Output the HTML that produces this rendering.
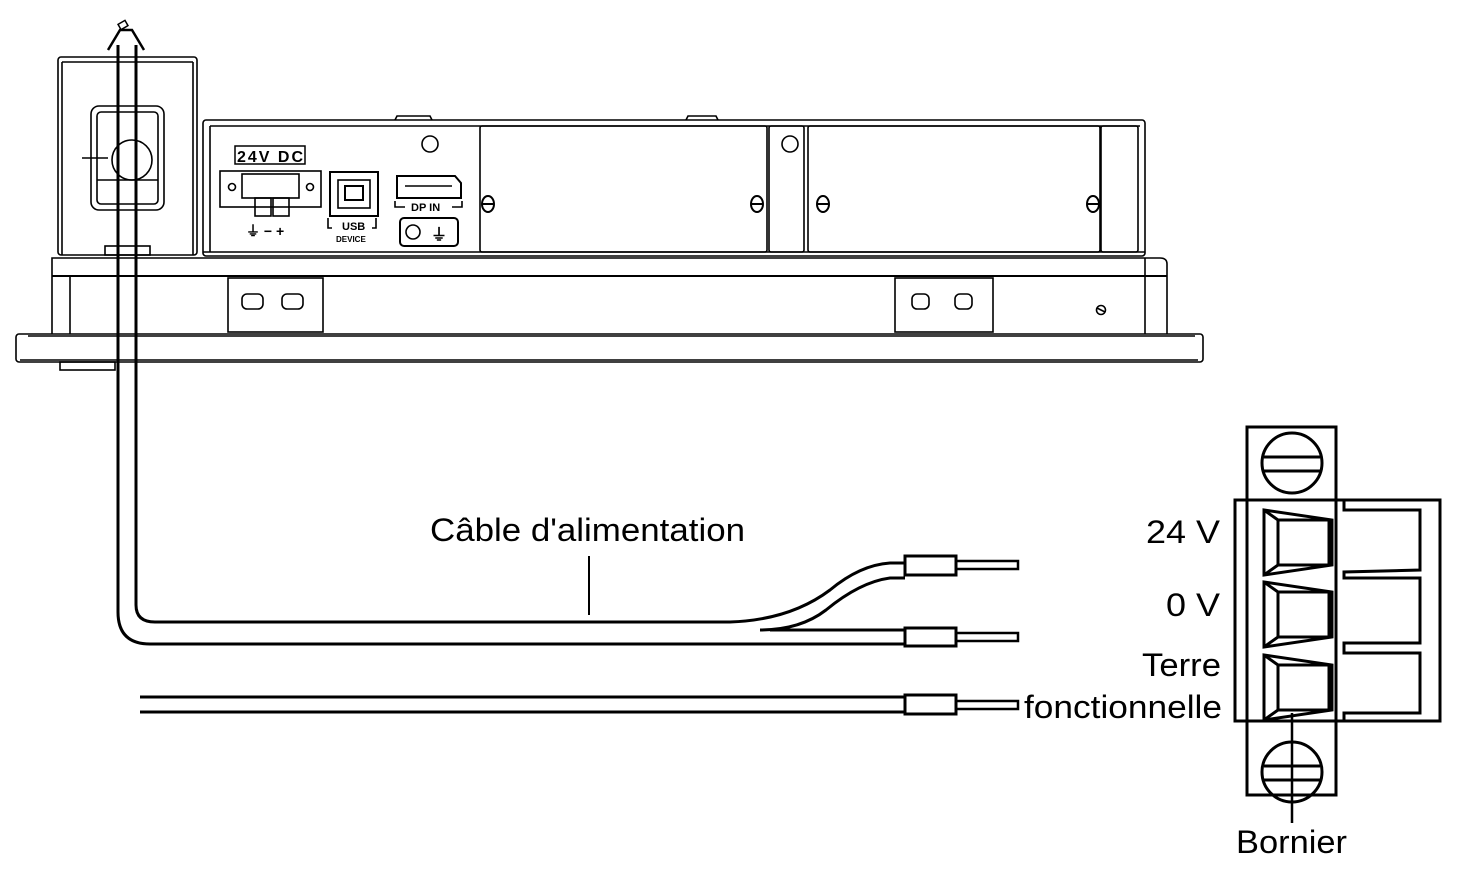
<!DOCTYPE html>
<html><head><meta charset="utf-8"><style>
html,body{margin:0;padding:0;background:#fff;width:1458px;height:894px;overflow:hidden}
svg{display:block}
text{font-family:"Liberation Sans",Arial,sans-serif;fill:#000}
</style></head><body>
<svg width="1458" height="894" viewBox="0 0 1458 894" xmlns="http://www.w3.org/2000/svg">
<g fill="none" stroke="#000" stroke-width="1.6">
<!-- front frame -->
<rect x="16" y="334" width="1187" height="28" rx="3"/>
<line x1="28" y1="336" x2="1195" y2="336"/>
<line x1="20" y1="360" x2="1198" y2="360"/>
<rect x="60" y="362" width="55" height="8"/>
<!-- bezel band -->
<path d="M52 334 L52 258 L1160 258 Q1167 258 1167 264 L1167 334"/>
<line x1="52" y1="276" x2="1167" y2="276" stroke-width="2"/>
<line x1="70" y1="276" x2="70" y2="334"/>
<line x1="1145" y1="258" x2="1145" y2="334"/>
<rect x="228" y="278" width="95" height="54"/>
<rect x="895" y="278" width="98" height="54"/>
<rect x="242" y="294" width="21" height="15" rx="5"/><rect x="282" y="294" width="21" height="15" rx="5"/>
<rect x="912" y="294" width="17" height="15" rx="5"/><rect x="955" y="294" width="17" height="15" rx="5"/>
<circle cx="1101" cy="310" r="4.5"/><line x1="1097" y1="308" x2="1105" y2="312"/>
<!-- left box -->
<rect x="58" y="57" width="139" height="198" rx="3"/>
<line x1="62" y1="62" x2="193" y2="62"/>
<line x1="62" y1="62" x2="62" y2="255"/><line x1="193" y1="62" x2="193" y2="255"/>
<rect x="91" y="106" width="73" height="104" rx="8"/>
<rect x="97" y="112" width="61" height="92" rx="4"/>
<circle cx="132" cy="160" r="20"/>
<line x1="82" y1="158" x2="108" y2="158"/>
<line x1="97" y1="180" x2="158" y2="180"/>
<rect x="105" y="246" width="45" height="9"/>
<!-- main housing -->
<rect x="203" y="120" width="942" height="136" rx="3"/>
<line x1="210" y1="126" x2="210" y2="252"/>
<line x1="210" y1="126" x2="1140" y2="126"/>
<line x1="203" y1="252" x2="1145" y2="252"/>
<path d="M395 120 L397 116 L430 116 L432 120"/>
<path d="M686 120 L688 116 L716 116 L718 120"/>
<rect x="480" y="126" width="287" height="126" rx="2"/>
<rect x="769" y="126" width="35" height="126" rx="2"/>
<rect x="808" y="126" width="292" height="126" rx="2"/>
<rect x="1101" y="126" width="37" height="126" rx="2"/>
<circle cx="790" cy="144" r="8"/><circle cx="430" cy="144" r="8"/>
<g stroke-width="2">
<ellipse cx="488" cy="204" rx="6" ry="8"/><line x1="482" y1="204" x2="494" y2="204"/>
<ellipse cx="757" cy="204" rx="6" ry="8"/><line x1="751" y1="204" x2="763" y2="204"/>
<ellipse cx="823" cy="204" rx="6" ry="8"/><line x1="817" y1="204" x2="829" y2="204"/>
<ellipse cx="1093" cy="204" rx="6" ry="8"/><line x1="1087" y1="204" x2="1099" y2="204"/>
</g>
<!-- ports -->
<rect x="235" y="146" width="70" height="18" stroke-width="1.5"/>
<rect x="220" y="171" width="101" height="36"/>
<rect x="242" y="174" width="57" height="24"/>
<circle cx="232" cy="187" r="3.5"/><circle cx="310" cy="187" r="3.5"/>
<rect x="255" y="198" width="16" height="18"/><rect x="273" y="198" width="16" height="18"/>
<rect x="330" y="172" width="48" height="44" stroke-width="2"/>
<rect x="338" y="180" width="32" height="28"/>
<rect x="345" y="186" width="18" height="14" stroke-width="2"/>
<path d="M397 176 L455 176 L461 183 L461 198 L397 198 Z" stroke-width="2"/>
<line x1="405" y1="186" x2="452" y2="186" stroke-width="1.5"/>
<rect x="400" y="218" width="58" height="28" rx="4" stroke-width="2"/>
<circle cx="413" cy="232" r="7"/>
<path d="M328 218 v10 h4 M376 218 v10 h-4 M395 201 v6 h10 M462 201 v6 h-10"/>
</g>
<g font-weight="bold">
<text x="237" y="162" font-size="16" textLength="66">24V DC</text>
<text x="342" y="230" font-size="11">USB</text>
<text x="336" y="242" font-size="8">DEVICE</text>
<text x="411" y="211" font-size="11">DP IN</text>
<text x="246" y="236" font-size="14">⏚ − +</text>
<text x="431" y="240" font-size="16">⏚</text>
</g>
<!-- cable -->
<g fill="none" stroke="#000" stroke-width="3">
<path d="M118 45 L118 612 Q118 644 150 644 L905 644"/>
<path d="M136 45 L136 605 Q136 622 155 622 L730 622 Q790 620 830 590 Q860 565 890 563 L905 563"/>
<path d="M760 630 Q800 630 826 610 Q860 582 890 578 L905 578"/>
<line x1="770" y1="630" x2="905" y2="630"/>
<line x1="140" y1="697" x2="905" y2="697"/>
<line x1="140" y1="712" x2="905" y2="712"/>
<path d="M108 50 L120 30 L132 30 L144 50" stroke-width="2.5"/>
<rect x="119" y="22" width="8" height="6" stroke-width="1.5" transform="rotate(-30 123 25)"/>
<rect x="905" y="556" width="51" height="19"/>
<rect x="905" y="628" width="51" height="18"/>
<rect x="905" y="695" width="51" height="19"/>
<rect x="956" y="561" width="62" height="8" stroke-width="2.5"/>
<rect x="956" y="633" width="62" height="8" stroke-width="2.5"/>
<rect x="956" y="701" width="62" height="8" stroke-width="2.5"/>
<line x1="589" y1="556" x2="589" y2="615" stroke-width="2"/>
</g>
<!-- terminal block -->
<g fill="none" stroke="#000" stroke-width="3">
<rect x="1247" y="427" width="89" height="368"/>
<rect x="1235" y="500" width="205" height="221"/>
<circle cx="1292" cy="463" r="30"/>
<line x1="1264" y1="457" x2="1320" y2="457"/><line x1="1264" y1="471" x2="1320" y2="471"/>
<circle cx="1292" cy="772" r="30"/>
<line x1="1264" y1="766" x2="1320" y2="766"/><line x1="1264" y1="780" x2="1320" y2="780"/>
<path d="M1344 500 L1344 510 L1420 510 L1420 570 L1344 572 L1344 578 L1420 578 L1420 643 L1344 643 L1344 653 L1420 653 L1420 713 L1344 713 L1344 721"/>
<g id="s">
<path d="M1264 510 L1332 520 L1332 565 L1264 575 Z"/>
<rect x="1278" y="520" width="51" height="45"/>
<line x1="1264" y1="510" x2="1278" y2="520"/><line x1="1264" y1="575" x2="1278" y2="565"/>
</g>
<use href="#s" y="72"/><use href="#s" y="145"/>
<line x1="1292" y1="713" x2="1292" y2="823" stroke-width="2.5"/>
</g>
<g font-size="32">
<text x="430" y="541" textLength="315" lengthAdjust="spacingAndGlyphs">Câble d'alimentation</text>
<text x="1146" y="543" textLength="74" lengthAdjust="spacingAndGlyphs">24 V</text>
<text x="1166" y="616" textLength="54" lengthAdjust="spacingAndGlyphs">0 V</text>
<text x="1142" y="676" textLength="79" lengthAdjust="spacingAndGlyphs">Terre</text>
<text x="1024" y="718" textLength="198" lengthAdjust="spacingAndGlyphs">fonctionnelle</text>
<text x="1236" y="853" textLength="111" lengthAdjust="spacingAndGlyphs">Bornier</text>
</g>
</svg>
</body></html>
